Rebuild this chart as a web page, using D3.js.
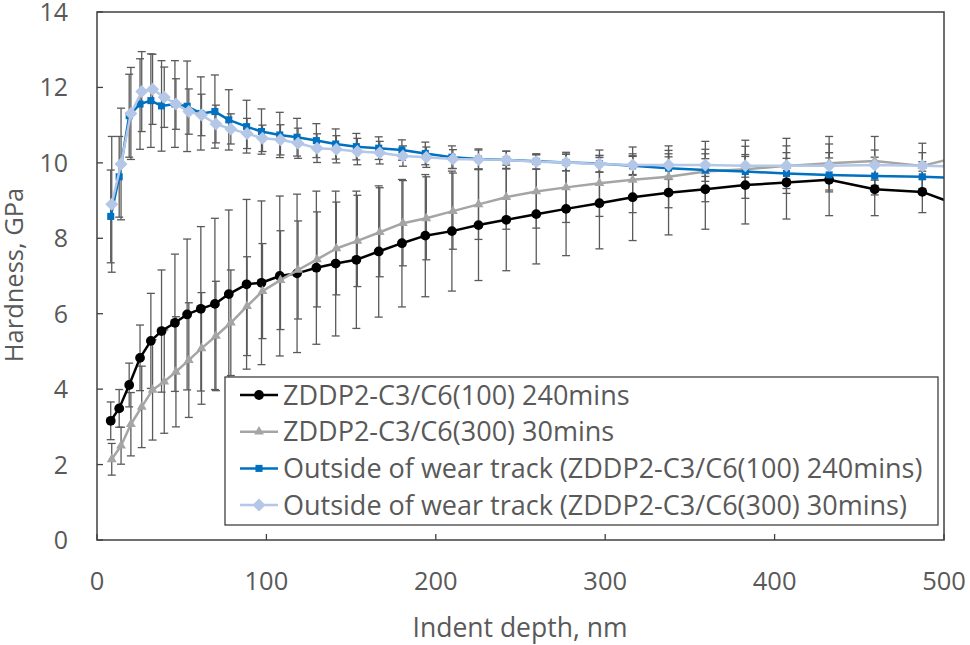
<!DOCTYPE html>
<html>
<head>
<meta charset="utf-8">
<script src="https://cdn.jsdelivr.net/npm/d3@7"></script>
<style>
  body { margin: 0; background: #fff; }
  text { font-family: "Open Sans", "Noto Sans", sans-serif; fill: #595959; }
</style>
</head>
<body>
<svg width="970" height="645"></svg>
<script>
// depth (nm) at which each series was sampled
var depthA = [8.1, 13.1, 19.0, 25.4, 31.8, 38.1, 46.0, 53.2, 61.3, 69.6, 77.8, 88.3, 97.1, 107.9, 118.1, 129.5, 140.9,
  153.1, 166.3, 180.0, 193.8, 209.5, 225.2, 241.6, 259.3, 276.9, 296.6, 316.2, 337.4, 359.1, 382.7, 407.0, 432.2, 459.1, 487.2, 512];
var depthB = [8.7, 14.2, 20.0, 26.4, 32.8, 39.7, 46.6, 54.2, 61.7, 70.2, 79.0, 88.6, 97.7, 108.3, 118.7, 129.9, 141.3,
  153.7, 166.9, 180.6, 194.4, 210.1, 225.2, 241.6, 259.3, 276.9, 296.6, 316.2, 337.4, 359.1, 382.7, 407.0, 432.2, 459.1, 487.2, 512];

var hard100 = [3.16, 3.49, 4.11, 4.83, 5.28, 5.54, 5.76, 5.98, 6.13, 6.26, 6.52, 6.78, 6.82, 7.0, 7.07, 7.22, 7.33,
  7.43, 7.65, 7.87, 8.07, 8.19, 8.35, 8.49, 8.64, 8.78, 8.93, 9.09, 9.21, 9.3, 9.41, 9.48, 9.55, 9.3, 9.23, 8.82];
var err100 = [0.5, 0.5, 0.58, 0.87, 1.26, 1.62, 1.82, 2.0, 2.18, 2.27, 2.23, 2.25, 2.17, 2.12, 2.1, 2.03, 1.92,
  1.82, 1.74, 1.69, 1.62, 1.59, 1.47, 1.35, 1.32, 1.24, 1.21, 1.15, 1.12, 1.06, 1.03, 0.97, 0.95, 0.7, 0.55, 0];

var hard300 = [2.14, 2.5, 3.07, 3.53, 3.98, 4.2, 4.46, 4.77, 5.08, 5.41, 5.76, 6.2, 6.6, 6.89, 7.16, 7.44, 7.73,
  7.93, 8.16, 8.4, 8.53, 8.72, 8.9, 9.09, 9.24, 9.35, 9.46, 9.55, 9.63, 9.77, 9.83, 9.92, 9.99, 10.05, 9.92, 10.2];
var err300 = [0.42, 0.49, 0.84, 1.08, 1.33, 1.37, 1.46, 1.52, 1.48, 1.45, 1.4, 1.31, 1.26, 1.31, 1.3, 1.26, 1.23,
  1.21, 1.18, 1.13, 1.1, 1.01, 0.93, 0.85, 0.97, 0.93, 0.88, 0.87, 0.82, 0.8, 0.77, 0.73, 0.71, 0.65, 0.6, 0];

var out100 = [8.58, 9.63, 11.25, 11.56, 11.65, 11.51, 11.56, 11.5, 11.31, 11.36, 11.14, 10.96, 10.83, 10.74, 10.68, 10.59, 10.5,
  10.43, 10.39, 10.34, 10.25, 10.15, 10.1, 10.08, 10.04, 10.01, 9.98, 9.92, 9.86, 9.81, 9.77, 9.72, 9.68, 9.65, 9.63, 9.6];
var errOut100 = [1.23, 1.07, 1.1, 1.2, 1.24, 1.2, 1.15, 1.2, 0.97, 0.97, 0.8, 0.7, 0.6, 0.6, 0.5, 0.45, 0.4,
  0.35, 0.3, 0.27, 0.3, 0.3, 0.27, 0.23, 0.2, 0.22, 0.22, 0.25, 0.3, 0.3, 0.4, 0.4, 0.45, 0.5, 0.4, 0];

var out300 = [8.9, 9.97, 11.31, 11.89, 11.95, 11.74, 11.56, 11.36, 11.27, 11.03, 10.9, 10.78, 10.65, 10.61, 10.52, 10.39, 10.36,
  10.3, 10.27, 10.18, 10.15, 10.1, 10.09, 10.08, 10.03, 10.01, 9.97, 9.94, 9.94, 9.94, 9.92, 9.92, 9.92, 9.94, 9.92, 9.9];
var errOut300 = [1.8, 1.48, 1.22, 1.06, 0.93, 0.8, 0.67, 0.6, 0.55, 0.5, 0.4, 0.4, 0.35, 0.4, 0.4, 0.38, 0.36,
  0.35, 0.3, 0.27, 0.27, 0.25, 0.25, 0.23, 0.2, 0.22, 0.22, 0.25, 0.3, 0.3, 0.3, 0.35, 0.35, 0.4, 0.35, 0];

var seriesNames = ["ZDDP2-C3/C6(100) 240mins", "ZDDP2-C3/C6(300) 30mins",
  "Outside of wear track (ZDDP2-C3/C6(100) 240mins)", "Outside of wear track (ZDDP2-C3/C6(300) 30mins)"];
var xTicks = [0, 100, 200, 300, 400, 500];
var yTicks = [0, 2, 4, 6, 8, 10, 12, 14];

var svg = d3.select("svg");
var mLeft = 97, mRight = 944, mTop = 12, mBottom = 540;

var x = d3.scaleLinear().domain([0, 500]).range([mLeft, mRight]);
var y = d3.scaleLinear().domain([0, 14]).range([mBottom, mTop]);

var series = [
  { name: seriesNames[0], xs: depthA, ys: hard100, es: err100, color: "#000000", marker: "circle" },
  { name: seriesNames[1], xs: depthB, ys: hard300, es: err300, color: "#A5A5A5", marker: "triangle" },
  { name: seriesNames[2], xs: depthA, ys: out100, es: errOut100, color: "#0070C0", marker: "square" },
  { name: seriesNames[3], xs: depthB, ys: out300, es: errOut300, color: "#B4C7E7", marker: "diamond" }
];
series.forEach(function(s) {
  s.points = s.xs.map(function(d, i) { return { x: d, y: s.ys[i], e: s.es[i] }; });
});

function markerPath(kind) {
  if (kind == "circle") return d3.symbol().type(d3.symbolCircle).size(75)();
  if (kind == "triangle") return d3.symbol().type(d3.symbolTriangle).size(42)();
  if (kind == "square") return d3.symbol().type(d3.symbolSquare).size(50)();
  return "M0,-6.5L6.5,0L0,6.5L-6.5,0Z";
}

svg.append("defs").append("clipPath").attr("id", "plotclip")
  .append("rect").attr("x", mLeft).attr("y", mTop).attr("width", mRight - mLeft).attr("height", mBottom - mTop);

var plot = svg.append("g").attr("clip-path", "url(#plotclip)");

// error bars
series.forEach(function(s) {
  var eb = plot.append("g").selectAll("g")
    .data(s.points.filter(function(p) { return p.e > 0; }))
    .enter().append("g");
  eb.append("line")
    .attr("x1", function(d) { return x(d.x); }).attr("x2", function(d) { return x(d.x); })
    .attr("y1", function(d) { return y(d.y - d.e); }).attr("y2", function(d) { return y(d.y + d.e); });
  eb.append("line")
    .attr("x1", function(d) { return x(d.x) - 4; }).attr("x2", function(d) { return x(d.x) + 4; })
    .attr("y1", function(d) { return y(d.y + d.e); }).attr("y2", function(d) { return y(d.y + d.e); });
  eb.append("line")
    .attr("x1", function(d) { return x(d.x) - 4; }).attr("x2", function(d) { return x(d.x) + 4; })
    .attr("y1", function(d) { return y(d.y - d.e); }).attr("y2", function(d) { return y(d.y - d.e); });
  eb.selectAll("line").style("stroke", "#5a5a5a").style("stroke-width", 1.3);
});

var line = d3.line().x(function(d) { return x(d.x); }).y(function(d) { return y(d.y); });

series.forEach(function(s) {
  plot.append("path")
    .datum(s.points)
    .attr("d", line)
    .style("fill", "none")
    .style("stroke", s.color)
    .style("stroke-width", 2.5)
    .style("stroke-linejoin", "round");
  plot.append("g").selectAll("path")
    .data(s.points)
    .enter().append("path")
    .attr("d", markerPath(s.marker))
    .attr("transform", function(d) { return "translate(" + x(d.x) + "," + y(d.y) + ")"; })
    .style("fill", s.color);
});

// frame and ticks
svg.append("rect")
  .attr("x", mLeft).attr("y", mTop).attr("width", mRight - mLeft).attr("height", mBottom - mTop)
  .style("fill", "none").style("stroke", "#404040").style("stroke-width", 1.5);

svg.append("g").selectAll("line").data(yTicks).enter().append("line")
  .attr("x1", mLeft).attr("x2", mLeft + 6)
  .attr("y1", function(d) { return y(d); }).attr("y2", function(d) { return y(d); })
  .style("stroke", "#404040").style("stroke-width", 1.3);
svg.append("g").selectAll("line").data(xTicks).enter().append("line")
  .attr("x1", function(d) { return x(d); }).attr("x2", function(d) { return x(d); })
  .attr("y1", mBottom).attr("y2", mBottom - 6)
  .style("stroke", "#404040").style("stroke-width", 1.3);

svg.append("g").selectAll("text").data(yTicks).enter().append("text")
  .attr("x", 68).attr("y", function(d) { return y(d); })
  .attr("dy", "0.36em")
  .attr("text-anchor", "end")
  .style("font-size", "25px")
  .text(function(d) { return d; });

svg.append("g").selectAll("text").data(xTicks).enter().append("text")
  .attr("x", function(d) { return x(d); }).attr("y", 590)
  .attr("text-anchor", "middle")
  .style("font-size", "25.5px")
  .text(function(d) { return d; });

svg.append("text")
  .attr("x", 520).attr("y", 637)
  .attr("text-anchor", "middle")
  .style("font-size", "26.5px")
  .text("Indent depth, nm");

svg.append("text")
  .attr("transform", "translate(23,275) rotate(-90)")
  .attr("text-anchor", "middle")
  .style("font-size", "25.5px")
  .text("Hardness, GPa");

// legend
var legend = svg.append("g");
legend.append("rect")
  .attr("x", 225).attr("y", 377).attr("width", 713).attr("height", 148)
  .style("fill", "#fff").style("stroke", "#404040").style("stroke-width", 1.3);

var item = legend.selectAll("g.item").data(series).enter().append("g")
  .attr("class", "item")
  .attr("transform", function(d, i) { return "translate(0," + (395 + i * 36.7) + ")"; });
item.append("line")
  .attr("x1", 240).attr("x2", 278)
  .style("stroke", function(d) { return d.color; })
  .style("stroke-width", 2.5);
item.append("path")
  .attr("d", function(d) { return markerPath(d.marker); })
  .attr("transform", "translate(259,0)")
  .style("fill", function(d) { return d.color; });
item.append("text")
  .attr("x", 283).attr("dy", "0.36em")
  .style("font-size", "27px")
  .text(function(d) { return d.name; });
</script>
</body>
</html>
